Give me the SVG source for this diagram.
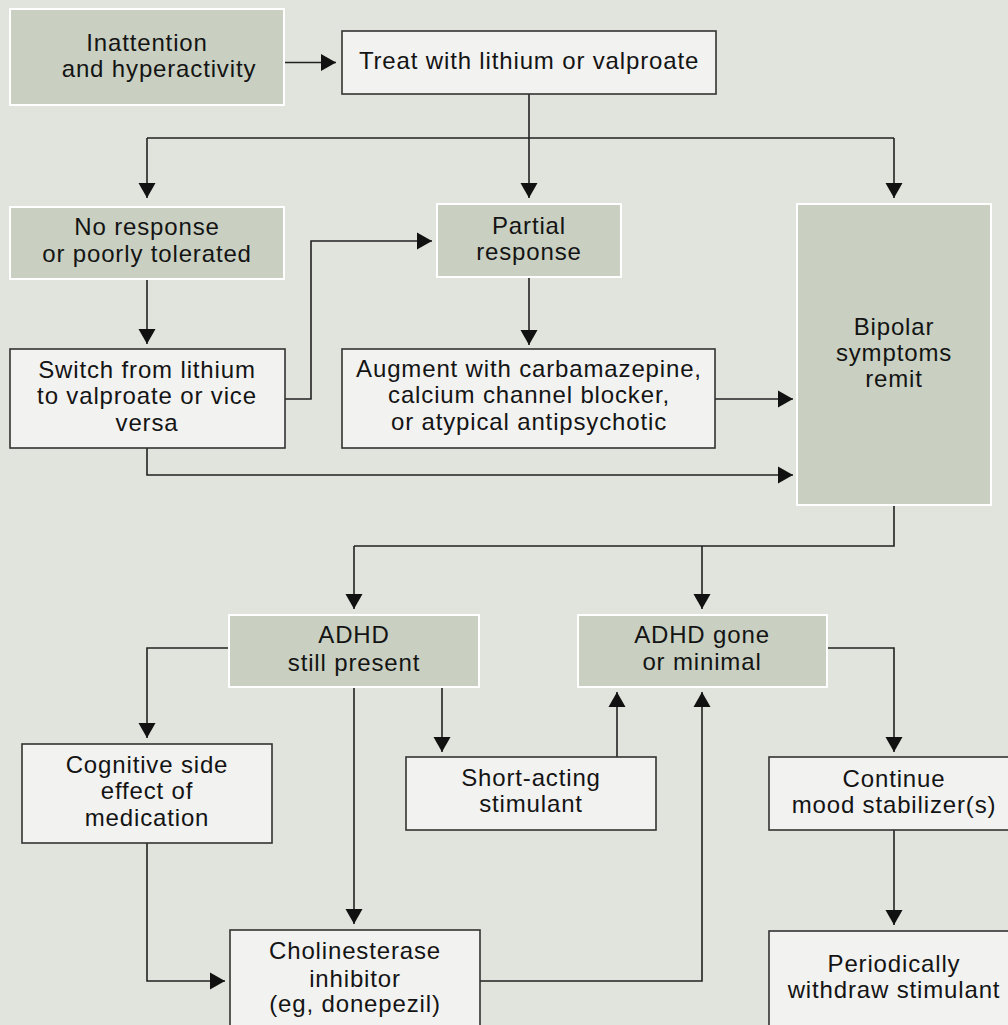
<svg xmlns="http://www.w3.org/2000/svg" width="1008" height="1025" viewBox="0 0 1008 1025">
<style>
.bg{fill:#e1e4dc}
.g{fill:#c9d0c1;stroke:#ffffff;stroke-width:2}
.w{fill:#f2f2f1;stroke:#333333;stroke-width:1.6}
.t{font-family:"Liberation Sans",Arial,sans-serif;font-size:24px;letter-spacing:0.85px;fill:#141414;text-anchor:middle}
.c{fill:none;stroke:#222222;stroke-width:1.6}
</style>
<defs>
<marker id="ah" markerUnits="userSpaceOnUse" markerWidth="16" markerHeight="18" refX="15" refY="8.5" orient="auto" viewBox="0 0 16 17">
<path d="M0,0 L15,8.5 L0,17 Z" fill="#111111"/>
</marker>
</defs>
<rect class="bg" x="0" y="0" width="1008" height="1025"/>
<g id="connectors">
<path class="c" d="M284,62.5 H336" marker-end="url(#ah)"/>
<path class="c" d="M529,94 V198" marker-end="url(#ah)"/>
<path class="c" d="M147,138 H894"/>
<path class="c" d="M147,138 V198" marker-end="url(#ah)"/>
<path class="c" d="M894,138 V198" marker-end="url(#ah)"/>
<path class="c" d="M147,279 V344" marker-end="url(#ah)"/>
<path class="c" d="M285,399 H311 V241 H432" marker-end="url(#ah)"/>
<path class="c" d="M147,448 V475 H793" marker-end="url(#ah)"/>
<path class="c" d="M529,277 V345" marker-end="url(#ah)"/>
<path class="c" d="M715,399 H793" marker-end="url(#ah)"/>
<path class="c" d="M894,505 V546 H354"/>
<path class="c" d="M354,546 V609" marker-end="url(#ah)"/>
<path class="c" d="M702,546 V609" marker-end="url(#ah)"/>
<path class="c" d="M229,648 H147 V738" marker-end="url(#ah)"/>
<path class="c" d="M354,687 V924" marker-end="url(#ah)"/>
<path class="c" d="M442,687 V752" marker-end="url(#ah)"/>
<path class="c" d="M147,843 V981 H225" marker-end="url(#ah)"/>
<path class="c" d="M480,981 H702 V692" marker-end="url(#ah)"/>
<path class="c" d="M617,757 V692" marker-end="url(#ah)"/>
<path class="c" d="M827,648 H894 V752" marker-end="url(#ah)"/>
<path class="c" d="M894,830 V925" marker-end="url(#ah)"/>
</g>
<g id="n1"><rect class="g" x="10" y="9" width="274" height="96"/><text class="t" x="147" y="51">Inattention</text><text class="t" x="159" y="77">and hyperactivity</text></g>
<g id="n2"><rect class="w" x="342" y="31" width="374" height="63"/><text class="t" x="529" y="69">Treat with lithium or valproate</text></g>
<g id="n3"><rect class="g" x="10" y="207" width="274" height="72"/><text class="t" x="147" y="235">No response</text><text class="t" x="147" y="262">or poorly tolerated</text></g>
<g id="n4"><rect class="g" x="437" y="204" width="184" height="73"/><text class="t" x="529" y="234">Partial</text><text class="t" x="529" y="260">response</text></g>
<g id="n5"><rect class="g" x="797" y="204" width="194" height="301"/><text class="t" x="894" y="335">Bipolar</text><text class="t" x="894" y="361">symptoms</text><text class="t" x="894" y="387">remit</text></g>
<g id="n6"><rect class="w" x="10" y="349" width="275" height="99"/><text class="t" x="147" y="378">Switch from lithium</text><text class="t" x="147" y="404">to valproate or vice</text><text class="t" x="147" y="431">versa</text></g>
<g id="n7"><rect class="w" x="342" y="349" width="373" height="99"/><text class="t" x="529" y="377">Augment with carbamazepine,</text><text class="t" x="529" y="403">calcium channel blocker,</text><text class="t" x="529" y="430">or atypical antipsychotic</text></g>
<g id="n8"><rect class="g" x="229" y="615" width="250" height="72"/><text class="t" x="354" y="643">ADHD</text><text class="t" x="354" y="671">still present</text></g>
<g id="n9"><rect class="g" x="578" y="615" width="249" height="72"/><text class="t" x="702" y="643">ADHD gone</text><text class="t" x="702" y="670">or minimal</text></g>
<g id="n10"><rect class="w" x="22" y="744" width="250" height="99"/><text class="t" x="147" y="773">Cognitive side</text><text class="t" x="147" y="799">effect of</text><text class="t" x="147" y="826">medication</text></g>
<g id="n11"><rect class="w" x="406" y="757" width="250" height="73"/><text class="t" x="531" y="786">Short-acting</text><text class="t" x="531" y="812">stimulant</text></g>
<g id="n12"><rect class="w" x="769" y="757" width="250" height="73"/><text class="t" x="894" y="787">Continue</text><text class="t" x="894" y="813">mood stabilizer(s)</text></g>
<g id="n13"><rect class="w" x="230" y="930" width="250" height="100"/><text class="t" x="355" y="959">Cholinesterase</text><text class="t" x="355" y="987">inhibitor</text><text class="t" x="355" y="1012">(eg, donepezil)</text></g>
<g id="n14"><rect class="w" x="769" y="931" width="250" height="100"/><text class="t" x="894" y="972">Periodically</text><text class="t" x="894" y="998">withdraw stimulant</text></g>
</svg>
